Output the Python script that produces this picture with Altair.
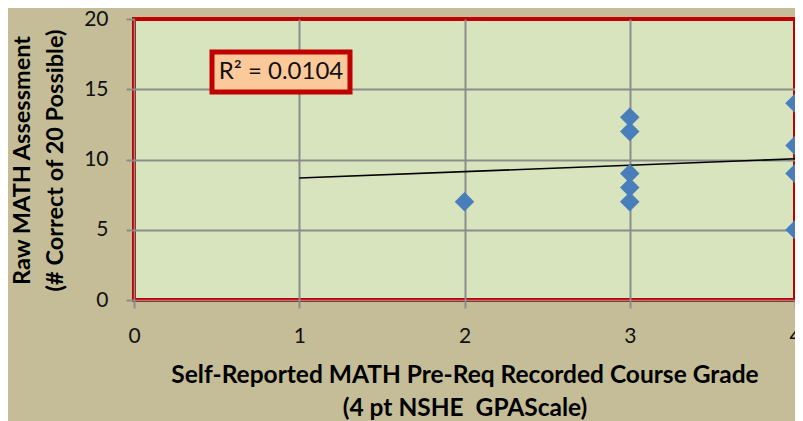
import altair as alt
import pandas as pd

# ---- data ----
grade = [2, 3, 3, 3, 3, 3, 4, 4, 4, 4]
score = [7, 13, 12, 9, 8, 7, 14, 11, 9, 5]
trend_x = [1, 4]
trend_y = [8.68, 10.05]
r2_label = ["R² = 0.0104"]
x_ticks = [0, 1, 2, 3, 4]
y_ticks = [0, 5, 10, 15, 20]
x_title = ["Self-Reported MATH Pre-Req Recorded Course Grade", "(4 pt NSHE\u00a0 GPAScale)"]
y_title = ["Raw MATH Assessment", "(# Correct of 20 Possible)"]

FONT = "Lato"
TAN = "#C4BD97"
PLOT_BG = "#D7E4BD"
RED = "#C00000"
GRID = "#8C8C8C"
BLUE = "#4A7EBB"

pts = pd.DataFrame({"grade": grade, "score": score})
trend = pd.DataFrame({"grade": trend_x, "score": trend_y})
lab = pd.DataFrame({"t": r2_label})

x_scale = alt.Scale(domain=[0, 4], nice=False)
y_scale = alt.Scale(domain=[0, 20], nice=False)

x_axis = alt.Axis(
    values=x_ticks, format="d", title=x_title, grid=True, gridColor=GRID, gridWidth=2,
    gridOpacity={"condition": {"test": "datum.value == 0 || datum.value == 4", "value": 0}, "value": 1},
    domainColor=GRID, domainWidth=1.5, tickColor=GRID, tickWidth=2, tickSize=8,
    labelFont=FONT, labelFontSize=21, labelColor="#111111", labelPadding=17,
    labelFlush=False, labelOverlap=False,
    titleFont=FONT, titleFontSize=24.5, titleFontWeight="bold", titleColor="#000000",
    titleLineHeight=33, titleBaseline="alphabetic", titleY=82, titleAnchor="middle",
)
y_axis = alt.Axis(
    values=y_ticks, format="d", title=y_title, grid=True, gridColor=GRID, gridWidth=2,
    gridOpacity={"condition": {"test": "datum.value == 0 || datum.value == 20", "value": 0}, "value": 1},
    domainColor=GRID, domainWidth=1.5, tickColor=GRID, tickWidth=2, tickSize=8,
    labelFont=FONT, labelFontSize=21, labelColor="#111111", labelPadding=18,
    labelFlush=False, labelOverlap=False,
    titleFont=FONT, titleFontSize=23.5, titleFontWeight="bold", titleColor="#000000",
    titleLineHeight=33, titleBaseline="alphabetic", titleX=-105, titleY=141, titleAngle=-90,
    titleAlign="center",
)

points = alt.Chart(pts).mark_point(
    shape="diamond", filled=True, size=380, color=BLUE, opacity=1, clip=True
).encode(
    x=alt.X("grade:Q", scale=x_scale, axis=x_axis),
    y=alt.Y("score:Q", scale=y_scale, axis=y_axis),
)

line = alt.Chart(trend).mark_line(color="#000000", strokeWidth=1.6).encode(
    x=alt.X("grade:Q", scale=x_scale),
    y=alt.Y("score:Q", scale=y_scale),
)

box = alt.Chart(lab).mark_rect(fill="#FBC99A", stroke=RED, strokeWidth=5).encode(
    x=alt.value(78), x2=alt.value(216), y=alt.value(33), y2=alt.value(73)
)
txt = alt.Chart(lab).mark_text(
    font=FONT, fontSize=24, color="#111111", align="center", baseline="middle"
).encode(text="t:N", x=alt.value(147), y=alt.value(53))

chart = alt.layer(line, points, box, txt).properties(
    width=661, height=281,
    background=TAN,
    autosize=alt.AutoSizeParams(type="none"),
    padding={"left": 126, "top": 11, "right": 0, "bottom": 121},
).configure_view(fill=PLOT_BG, stroke=RED, strokeWidth=4)

chart.save("out.html", embed_options={"renderer": "svg", "actions": False})
